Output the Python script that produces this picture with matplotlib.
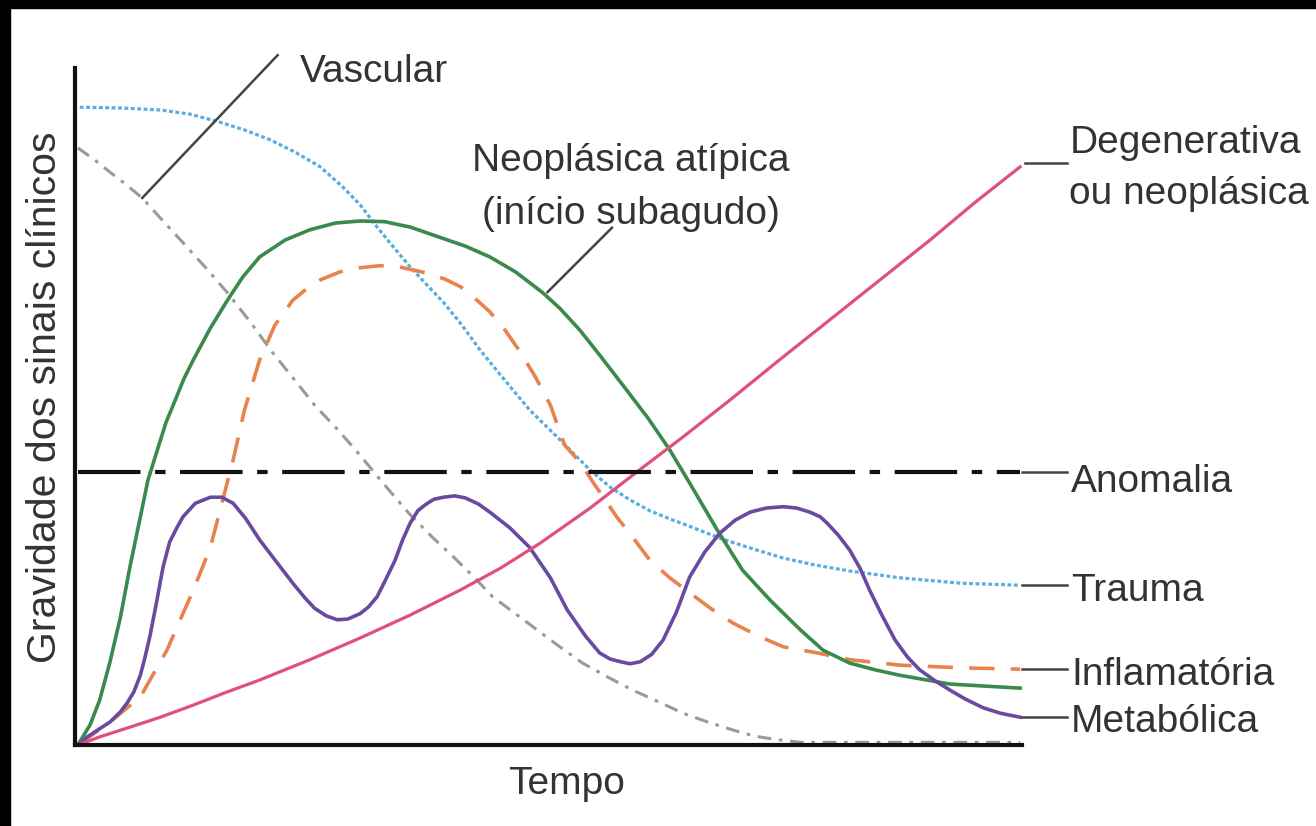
#!/usr/bin/env python3
"""Gravidade dos sinais clínicos x tempo, por categoria de doença."""

import matplotlib

matplotlib.use("Agg")
import matplotlib.pyplot as plt
from matplotlib.patches import Rectangle

plt.rcParams["font.family"] = ["Liberation Sans", "DejaVu Sans"]

# curves: time 0-100, severity 0-100
trauma_t = [0.5, 4.8, 9.0, 12.1, 15.3, 18.0, 20.6, 23.2, 25.9, 28.3, 30.1, 31.9,
            33.6, 35.4, 37.2, 38.9, 40.7, 42.8, 44.9, 48.0, 51.2, 54.4, 56.5, 58.6,
            60.7, 62.8, 64.9, 68.4, 71.3, 74.8, 78.1, 81.8, 87.1, 93.5, 99.8]
trauma_s = [94.2, 94.1, 93.8, 93.2, 92.0, 90.8, 89.4, 87.6, 85.4, 82.4, 79.8, 76.5,
            73.6, 70.6, 67.9, 65.4, 62.3, 58.3, 54.7, 49.5, 45.1, 40.6, 38.1, 36.2,
            34.6, 33.4, 32.3, 30.4, 29.1, 27.6, 26.6, 25.7, 24.7, 23.9, 23.6]

vascular_t = [0.3, 2.1, 3.7, 5.3, 7.1, 9.3, 11.6, 13.8, 16.1, 18.5, 20.9, 23.2,
              25.3, 27.8, 30.1, 32.7, 35.4, 37.8, 40.1, 42.2, 44.1, 46.5, 48.8,
              51.2, 53.6, 56.3, 58.9, 61.6, 64.2, 66.8, 69.5, 71.8, 74.1, 76.6,
              99.8]
vascular_s = [88.2, 86.4, 84.6, 82.9, 80.8, 77.4, 73.9, 70.5, 66.8, 62.5, 57.9, 53.9,
              50.2, 46.5, 42.8, 38.4, 34.0, 30.6, 27.6, 24.7, 21.9, 19.4, 17.0,
              14.5, 12.1, 10.0, 8.1, 6.4, 4.7, 3.4, 2.2, 1.3, 0.8, 0.4, 0.4]

neo_t = [0.3, 1.6, 2.6, 3.7, 4.8, 5.8, 6.9, 7.7, 8.7, 9.6, 10.6, 11.5, 12.5, 14.3,
         16.1, 17.7, 19.5, 22.2, 24.8, 27.5, 30.1, 32.7, 35.4, 38.5, 41.2, 43.8,
         46.5, 49.4, 51.2, 53.3, 55.4, 58.1, 60.5, 62.8, 64.9, 67.8, 70.5, 73.4,
         76.6, 79.0, 81.8, 84.5, 87.1, 92.4, 99.8]
neo_s = [0.0, 3.0, 6.6, 12.3, 18.9, 26.3, 33.7, 39.1, 43.6, 47.6, 51.0, 54.1, 56.9,
         61.6, 65.7, 69.1, 72.1, 74.6, 76.1, 77.1, 77.4, 77.3, 76.5, 75.0, 73.7,
         72.1, 69.9, 66.8, 64.5, 61.3, 57.6, 52.7, 48.3, 43.6, 38.7, 31.8, 25.8,
         21.4, 17.0, 14.0, 12.1, 11.1, 10.3, 9.0, 8.4]

infl_t = [0.3, 3.7, 6.9, 9.7, 12.5, 14.3, 15.6, 16.7, 17.9, 19.5, 21.1, 23.0, 24.3,
          25.9, 28.0, 30.1, 32.2, 34.3, 37.2, 39.1, 40.7, 42.2, 43.8, 45.4, 47.0,
          48.6, 50.2, 51.7, 53.3, 54.9, 57.2, 59.1, 60.7, 62.8, 64.9, 67.1, 69.5,
          72.3, 74.8, 78.4, 81.8, 87.1, 93.5, 99.8]
infl_s = [0.0, 3.4, 7.1, 14.0, 22.9, 29.2, 36.2, 42.1, 49.5, 56.9, 62.0, 65.7, 67.2,
          68.7, 69.9, 70.5, 70.8, 70.6, 69.7, 68.8, 67.7, 66.0, 64.0, 61.3, 58.1,
          54.4, 50.2, 44.3, 41.8, 38.4, 33.7, 30.3, 27.3, 24.7, 22.5, 20.2, 18.0,
          16.0, 14.5, 13.6, 12.6, 11.8, 11.4, 11.2]

metab_t = [0.3, 1.3, 2.6, 3.7, 4.8, 5.5, 6.2, 6.9, 7.4, 7.9, 8.6, 9.3, 10.0, 10.8,
           11.4, 12.7, 14.3, 15.5, 16.7, 18.0, 19.5, 21.3, 23.0, 24.3, 25.3, 26.5,
           27.7, 28.8, 30.1, 31.0, 31.9, 32.8, 33.8, 34.6, 35.4, 36.2, 37.0, 37.9,
           38.9, 40.1, 41.2, 42.6, 43.8, 45.9, 48.0, 50.2, 52.0, 53.9, 55.4, 56.5,
           57.6, 58.6, 59.7, 60.9, 62.1, 63.5, 64.9, 66.5, 68.1, 69.7, 71.3, 73.0,
           74.8, 76.2, 77.6, 78.7, 79.4, 80.6, 81.8, 82.9, 83.9, 85.2, 86.6, 87.9,
           89.2, 90.8, 92.4, 94.0, 95.9, 97.7, 99.8]
metab_s = [0.0, 1.2, 2.4, 3.4, 4.9, 6.2, 7.8, 10.3, 13.0, 16.0, 21.0, 26.3, 30.0,
           32.2, 33.7, 35.7, 36.6, 36.6, 35.7, 33.5, 30.3, 27.0, 23.9, 21.7, 20.2,
           19.1, 18.5, 18.6, 19.4, 20.4, 21.9, 24.4, 27.3, 30.3, 32.8, 34.6, 35.5,
           36.3, 36.6, 36.8, 36.5, 35.6, 34.4, 32.1, 29.2, 24.7, 19.9, 16.1, 13.6,
           12.7, 12.3, 12.0, 12.3, 13.4, 15.5, 19.6, 24.8, 28.5, 31.3, 33.2, 34.4,
           35.0, 35.2, 35.0, 34.4, 33.7, 32.8, 31.0, 28.8, 26.1, 22.9, 19.2, 15.5,
           13.0, 11.1, 9.5, 8.1, 6.8, 5.5, 4.7, 4.1]

degen_t = [0.3, 2.6, 5.5, 9.0, 12.5, 15.8, 19.5, 24.8, 30.1, 35.4, 40.7, 44.9, 49.1,
           54.4, 59.3, 64.2, 69.2, 74.4, 79.7, 85.0, 90.3, 95.0, 99.8]
degen_s = [0.0, 1.2, 2.5, 4.1, 5.9, 7.7, 9.6, 12.6, 15.8, 19.2, 22.9, 26.1, 29.8,
           35.0, 40.3, 45.5, 51.0, 56.9, 62.8, 68.7, 74.6, 80.1, 85.4]

anomalia_t = [0.3, 99.8]
anomalia_s = [40.3, 40.3]

# right-hand labels: text, y of the line end, y of the text
right_labels = [("Anomalia", 40.3, 39.4), ("Trauma", 23.6, 23.3),
                ("Inflamatória", 11.2, 11.0), ("Metabólica", 4.1, 4.0)]

TXT = "#333333"
LEAD = "#444444"


def main() -> None:
    fig = plt.figure(figsize=(13.16, 8.26), dpi=100)
    fig.patch.set_facecolor("white")
    # black frame of the screenshot (top and left)
    fig.patches.append(Rectangle((0, 1 - 8 / 826), 1, 8 / 826,
                                 transform=fig.transFigure, color="black", zorder=0))
    fig.patches.append(Rectangle((0, 0), 10 / 1316, 1,
                                 transform=fig.transFigure, color="black", zorder=0))

    ax = fig.add_axes([75 / 1316, 81 / 826, 947 / 1316, 677 / 826])
    ax.set_xlim(0, 100)
    ax.set_ylim(0, 100)
    for side in ("top", "right"):
        ax.spines[side].set_visible(False)
    for side in ("left", "bottom"):
        ax.spines[side].set_linewidth(3.0)
        ax.spines[side].set_color("#111111")
    ax.set_xticks([])
    ax.set_yticks([])

    ax.plot(trauma_t, trauma_s, color="#58aee0", lw=2.3, ls=(0, (1.2, 0.8)),
            solid_capstyle="butt")
    ax.plot(vascular_t, vascular_s, color="#9a9a9a", lw=2.2,
            ls=(0, (4.5, 2.5, 1.2, 2.5)))
    ax.plot(infl_t, infl_s, color="#e8834e", lw=2.6, ls=(0, (7, 4.5)))
    ax.plot(neo_t, neo_s, color="#3a8a4e", lw=2.6)
    ax.plot(metab_t, metab_s, color="#6a4aa0", lw=2.6)
    ax.plot(degen_t, degen_s, color="#e0507c", lw=2.3)
    ax.plot(anomalia_t, anomalia_s, color="#111111", lw=3.0,
            ls=(0, (15, 3.5, 2.5, 3.5)))

    # leader lines and labels on the right
    for name, y, ty in right_labels:
        ax.plot([100.0, 104.8], [y, y], color=LEAD, lw=1.8, clip_on=False)
        ax.text(105.2, ty, name, fontsize=28, color=TXT, ha="left",
                va="center_baseline", clip_on=False)

    ax.plot([100.3, 104.8], [86.0, 86.0], color=LEAD, lw=1.8, clip_on=False)
    ax.text(105.0, 89.5, "Degenerativa", fontsize=28, color=TXT, ha="left",
            va="center_baseline", clip_on=False)
    ax.text(105.0, 82.0, "ou neoplásica", fontsize=28, color=TXT, ha="left",
            va="center_baseline", clip_on=False)

    # Vascular leader
    ax.plot([7.1, 21.4], [80.8, 101.9], color=LEAD, lw=1.8, clip_on=False)
    ax.text(23.7, 100.0, "Vascular", fontsize=28, color=TXT, ha="left",
            va="center_baseline", clip_on=False)

    # Neoplásica atípica leader
    ax.plot([49.9, 56.7], [66.9, 76.4], color=LEAD, lw=1.8)
    ax.text(58.7, 86.8, "Neoplásica atípica", fontsize=28, color=TXT,
            ha="center", va="center_baseline")
    ax.text(58.7, 79.0, "(início subagudo)", fontsize=28, color=TXT,
            ha="center", va="center_baseline")

    fig.text(567 / 1316, 1 - 780 / 826, "Tempo", fontsize=28, color=TXT,
             ha="center", va="center_baseline")
    fig.text(45 / 1316, 1 - 397 / 826, "Gravidade dos sinais clínicos",
             fontsize=29.5, color=TXT, ha="center", va="center", rotation=90)

    fig.savefig("out.png", dpi=100)
    plt.close(fig)


if __name__ == "__main__":
    main()
